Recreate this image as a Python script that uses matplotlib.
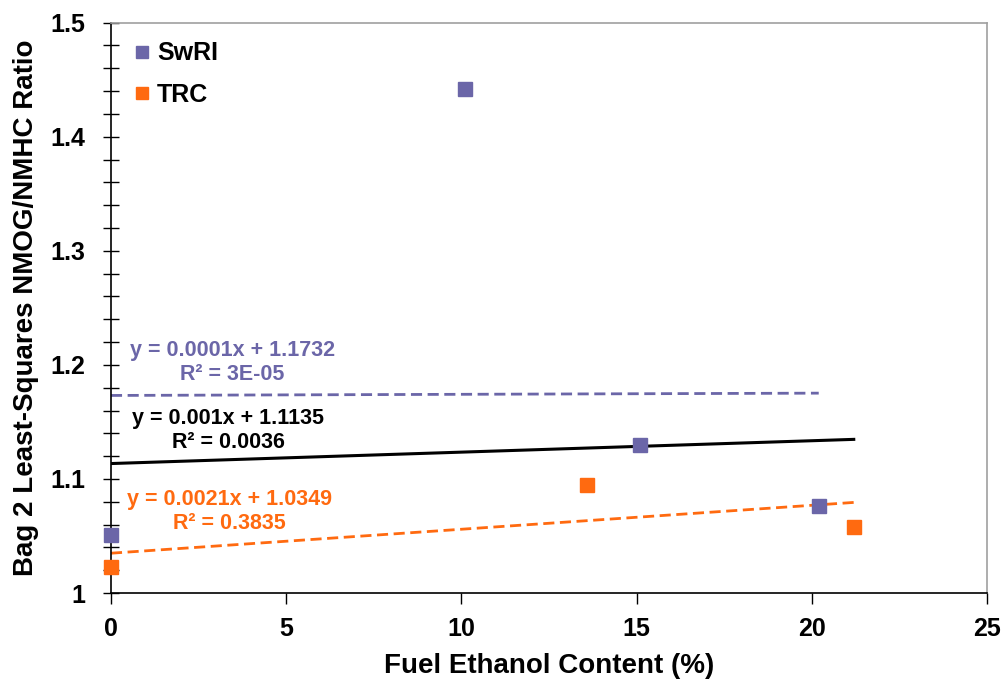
import numpy as np
import matplotlib.pyplot as plt

plt.rcParams['font.family'] = ['Liberation Sans', 'DejaVu Sans']
plt.rcParams['font.weight'] = 'bold'

# data
swri_x = [0.0, 10.1, 15.1, 20.2]
swri_y = [1.051, 1.442, 1.130, 1.076]
trc_x = [0.0, 13.6, 21.2]
trc_y = [1.023, 1.095, 1.058]

# trend lines (slope, intercept, x end) as printed on the chart
swri_fit = (0.0001, 1.1732, 20.2)
all_fit = (0.001, 1.1135, 21.2)
trc_fit = (0.0021, 1.0349, 21.2)

swri_eq = 'y = 0.0001x + 1.1732\nR² = 3E-05'
all_eq = 'y = 0.001x + 1.1135\nR² = 0.0036'
trc_eq = 'y = 0.0021x + 1.0349\nR² = 0.3835'

purple = '#6b66a8'
orange = '#ff6a10'

fig = plt.figure(figsize=(10.05, 6.87), dpi=100)
ax = fig.add_axes([0.1104, 0.1368, 0.8716, 0.8302])


def fitline(fit, **kw):
    m, b, xe = fit
    xs = np.array([0.0, xe])
    ax.plot(xs, m*xs + b, **kw)


fitline(swri_fit, color=purple, lw=2.0, ls=(0, (4, 2)), zorder=2)
fitline(all_fit, color='black', lw=2.2, zorder=2)
fitline(trc_fit, color=orange, lw=2.0, ls=(0, (4, 2)), zorder=2)

ax.plot(swri_x, swri_y, 's', color=purple, ms=9.5, mec=purple,
        label='SwRI', zorder=4, clip_on=False)
ax.plot(trc_x, trc_y, 's', color=orange, ms=9.5, mec=orange,
        label='TRC', zorder=4, clip_on=False)

eq_kw = dict(fontsize=15.5, ha='center', va='center',
             multialignment='center', fontweight='bold', linespacing=1.2)
ax.text(3.47, 1.2023, swri_eq, color=purple, **eq_kw)
ax.text(3.34, 1.1423, all_eq, color='black', **eq_kw)
ax.text(3.37, 1.0718, trc_eq, color=orange, **eq_kw)

ax.set_xlim(0, 25)
ax.set_ylim(1.0, 1.5)
ax.set_xticks([0, 5, 10, 15, 20, 25])
ax.set_yticks([1.0, 1.1, 1.2, 1.3, 1.4, 1.5])
ax.set_yticklabels(['1', '1.1', '1.2', '1.3', '1.4', '1.5'])
ax.set_yticks(np.arange(1.0, 1.5001, 0.02), minor=True)
ax.tick_params(axis='y', which='both', direction='inout', length=11.5,
               width=1, labelsize=18, pad=13)
ax.tick_params(axis='x', which='major', direction='out', length=8,
               width=1, labelsize=18, pad=9)

for side in ['top', 'right']:
    ax.spines[side].set_color('#a0a0a0')
    ax.spines[side].set_linewidth(1.2)
for side in ['left', 'bottom']:
    ax.spines[side].set_color('black')
    ax.spines[side].set_linewidth(1.2)

ax.set_xlabel('Fuel Ethanol Content (%)', fontsize=20, fontweight='bold',
              labelpad=9)
ax.set_ylabel('Bag 2 Least-Squares NMOG/NMHC Ratio', fontsize=20,
              fontweight='bold', labelpad=8)

ax.legend(loc='upper left', frameon=False, fontsize=18, handletextpad=0.1,
          handlelength=1.0, labelspacing=0.7, markerscale=0.9,
          borderaxespad=0.35, bbox_to_anchor=(0.0, 1.0))

fig.savefig('out.png', dpi=100)
